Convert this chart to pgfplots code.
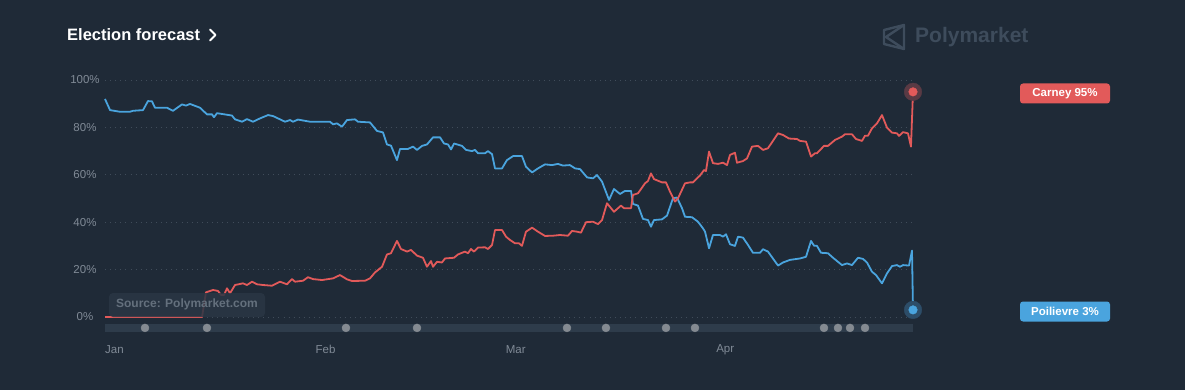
\documentclass[border=0pt]{standalone}
\usepackage{fontspec}
\setmainfont{Liberation Sans}
\usepackage{pgfplots}
\pgfplotsset{compat=1.18}
\definecolor{bg}{RGB}{31,42,55}
\definecolor{pblue}{RGB}{74,164,222}
\definecolor{pred}{RGB}{226,90,90}
\definecolor{gridc}{RGB}{64,76,90}
\definecolor{tickc}{RGB}{128,138,150}
\definecolor{barc}{RGB}{46,60,75}
\definecolor{dotc}{RGB}{132,138,145}
\definecolor{logoc}{RGB}{62,76,92}
\definecolor{srcbox}{RGB}{42,54,68}
\definecolor{srctext}{RGB}{100,112,125}
\definecolor{haloR}{RGB}{89,58,68}
\definecolor{haloB}{RGB}{45,77,104}
\begin{document}
\begin{tikzpicture}[x=1pt,y=1pt]
\useasboundingbox (0,0) rectangle (1185,-390);
\fill[bg] (0,0) rectangle (1185,-390);
% title
\node[anchor=west, inner sep=0pt, text=white, font=\bfseries\fontsize{16.5pt}{18pt}\selectfont] at (67,-35) {Election forecast};
\draw[white, line width=2pt, line cap=round, line join=round] (210,-29.5) -- (215.5,-35) -- (210,-40.5);
% logo
\draw[logoc, line width=2.4pt, line join=round] (884,-30) -- (904,-25) -- (904,-49) -- (884,-44) -- cycle;
\draw[logoc, line width=2.4pt, line join=round] (904,-25) -- (886,-37) -- (904,-49);
\node[anchor=west, inner sep=0pt, text=logoc, font=\bfseries\fontsize{21pt}{23pt}\selectfont] at (915,-37) {Polymarket};
\begin{axis}[
  at={(105pt,-317pt)}, anchor=south west,
  scale only axis, width=808pt, height=237pt,
  xmin=0, xmax=119, ymin=0, ymax=100,
  axis lines*=left, axis line style={draw=none},
  major tick length=0pt,
  clip=false,
  ytick={0,20,40,60,80,100},
  yticklabels={0\%,20\%,40\%,60\%,80\%,100\%},
  xtick={0,31,59,90},
  xticklabels={Jan,Feb,Mar,Apr},
  ymajorgrids,
  major grid style={gridc, line width=0.9pt, dash pattern=on 0.9pt off 4.2pt},
  yticklabel style={anchor=center, xshift=-20pt, text=tickc, font=\fontsize{11.5pt}{13pt}\selectfont},
  xticklabel style={anchor=west, inner sep=0pt, yshift=-32.5pt, text=tickc, font=\fontsize{11.5pt}{13pt}\selectfont},
  /pgf/number format/assume math mode=true,
]
% timeline bar
\fill[barc] (axis cs:0,-2.9) rectangle (axis cs:119,-6.3);
\addplot[only marks, mark=*, mark size=4pt, color=dotc] coordinates {
(5.89,-4.6) (15.02,-4.6) (35.49,-4.6) (45.95,-4.6) (68.04,-4.6) (73.78,-4.6) (82.62,-4.6) (86.89,-4.6) (105.89,-4.6) (107.95,-4.6) (109.72,-4.6) (111.93,-4.6)};
% Poilievre
\addplot[pblue, line width=1.8pt, line join=round, mark=none] coordinates {
(0,92) (0.74,87.3) (2.21,86.6) (3.68,86.6) (4.12,87) (5.6,87.3) (6.33,91.1) (6.92,91) (7.36,88.3) (9.13,88.3) (10.01,87) (11.34,89.7) (11.93,89.2) (12.52,89.9) (13.99,88.3) (15.02,85.5) (15.76,85.5) (16.05,84.3) (16.5,86) (18.7,85) (19.15,83.4) (20.18,82.4) (20.91,83.5) (21.8,82.4) (22.83,83.8) (24.01,85.2) (24.74,84.8) (26.51,82.4) (27.25,83.1) (27.69,82.4) (28.42,83.3) (30.19,82.4) (33.14,82.4) (33.58,81.3) (34.17,81.7) (34.9,80.3) (35.64,83.1) (36.82,83.4) (37.26,82.4) (39.03,82.1) (40.06,78.5) (40.94,77.9) (41.53,72.8) (42.12,72.3) (43.0,66.2) (43.45,70.9) (44.62,70.9) (45.36,71.9) (45.95,70.5) (46.69,72.2) (47.42,72.8) (48.31,75.8) (49.34,75.8) (49.93,73.2) (50.52,72.8) (50.96,70.7) (51.4,73.2) (52.58,72.2) (53.17,70.5) (54.05,70) (54.49,70.5) (54.93,69.1) (55.96,69.1) (56.41,70) (57.0,68.7) (57.44,62.7) (58.47,62.7) (59.2,66.2) (60.09,67.9) (61.41,67.9) (62.0,63.4) (62.89,61) (63.77,62.7) (64.8,64.4) (65.83,64.1) (66.72,64.6) (67.45,63.9) (68.48,64.1) (69.22,62.7) (69.96,62.4) (71.0,58.9) (71.87,58.5) (72.46,59.9) (73.2,57.1) (74.23,49.4) (74.96,54) (75.85,51.9) (76.58,53.2) (77.47,53.2) (77.76,47.7) (78.5,47) (79.23,41.4) (79.97,40.9) (80.41,38.1) (80.85,40.9) (82.03,41.2) (82.77,42.8) (83.65,50.1) (84.24,50.4) (84.98,45.9) (85.42,42.3) (86.45,42.1) (87.33,40.2) (88.07,37.4) (88.37,36) (88.96,29) (89.54,34.6) (90.57,34.6) (91.02,33.9) (91.46,34.9) (92.05,30.7) (92.78,30) (93.23,33.9) (93.96,33.5) (94.7,30.4) (95.43,27.1) (96.47,27.1) (96.91,28.6) (97.64,27.6) (99.12,21.7) (99.85,23) (100.88,24.1) (102.36,24.7) (103.24,25.4) (103.98,32.1) (104.42,30.1) (104.86,30) (105.45,27.1) (106.48,26.9) (107.22,25) (108.54,21.9) (109.28,22.6) (110.01,21.9) (110.9,25) (111.64,24.5) (112.22,23) (112.96,19.1) (113.55,17.7) (114.43,14.2) (115.17,18.4) (115.91,21.5) (116.64,21.9) (117.08,21.2) (117.53,21.9) (118.41,21.7) (118.85,28) (119,3)};
% Carney
\addplot[pred, line width=1.8pt, line join=round, mark=none] coordinates {
(0,0) (14.29,0) (14.87,10.4) (15.91,11.4) (16.64,11) (17.08,9.3) (17.53,9.3) (17.97,12.1) (18.41,10) (19.15,13.5) (20.32,14.2) (20.91,13.5) (21.65,14.9) (22.39,13.8) (23.27,13.5) (24.59,13.2) (25.77,14.9) (26.8,13.8) (27.54,16) (27.98,14.9) (29.16,15.3) (29.9,16.8) (30.63,16) (31.96,15.6) (33.58,16.3) (34.61,17.7) (35.64,15.9) (36.38,15.2) (38.29,15.3) (39.03,16.3) (39.76,18.8) (40.8,21.2) (41.53,26.4) (42.12,26.9) (43.0,32.1) (43.59,28.7) (44.48,27.6) (45.07,28.3) (45.95,25.9) (46.83,25) (47.42,21.2) (48.01,23.6) (48.31,21.2) (48.9,23.3) (49.63,23) (50.07,24.7) (51.4,25) (51.99,26.4) (53.02,27.6) (53.46,26.9) (53.9,28.7) (54.34,27.6) (54.93,29.3) (55.96,29.4) (56.41,28.7) (57.0,30.4) (57.44,36.7) (58.47,36.7) (59.06,33.9) (59.65,32.5) (60.38,31.1) (60.97,31.1) (61.41,30) (62.0,36) (62.89,37.7) (63.77,36) (64.8,34.2) (65.98,34.3) (67.01,34.6) (68.19,34.3) (68.78,36.3) (69.51,36) (70.1,35.6) (70.84,40) (71.87,40.2) (72.61,39.2) (73.2,40.9) (73.93,48) (74.96,44.4) (75.99,47) (76.44,45.9) (77.47,45.9) (77.76,51.5) (78.5,52.2) (79.53,56.4) (79.97,57.4) (80.41,60.6) (80.85,58.2) (81.44,57.5) (82.03,56.8) (82.62,56.8) (83.21,52.9) (83.95,48.7) (84.39,50.1) (85.42,56.4) (86.16,56.8) (86.6,56.8) (87.19,58.5) (87.63,59.7) (88.22,62) (88.51,61.6) (88.96,69.8) (89.54,64.9) (90.28,64.6) (91.02,65.1) (91.61,64.1) (92.05,68.4) (92.78,69.3) (93.08,65.1) (93.96,65.8) (94.55,66.9) (95.29,71.9) (96.17,72.2) (96.91,70.5) (97.64,71.2) (99.12,77.5) (99.85,76.8) (100.74,75.3) (101.91,75.1) (102.36,74.3) (103.24,74) (103.98,67.7) (104.57,69.1) (104.86,69.1) (105.89,72.2) (106.48,72.2) (107.51,74.7) (108.54,76.1) (108.98,77.1) (110.01,77.1) (110.6,75.1) (111.49,74.3) (111.93,76.5) (112.37,76.5) (112.96,79.6) (113.7,81.7) (114.43,85.2) (115.17,79.9) (115.91,77.8) (116.64,77.5) (116.94,76.4) (117.53,78) (118.26,77.5) (118.7,71.9) (119,95)};
% end markers
\addplot[only marks, mark=*, mark size=8.8pt, color=haloR] coordinates {(119,95)};
\addplot[only marks, mark=*, mark size=4.3pt, color=pred] coordinates {(119,95)};
\addplot[only marks, mark=*, mark size=8.8pt, color=haloB] coordinates {(119,3)};
\addplot[only marks, mark=*, mark size=4.3pt, color=pblue] coordinates {(119,3)};
\end{axis}
% source box
\fill[srcbox, fill opacity=0.85, rounded corners=4pt] (109,-293) rectangle (265,-317);
\node[text=srctext, inner sep=0pt, font=\bfseries\fontsize{12pt}{14pt}\selectfont] at (187,-304.5) {Source: Polymarket.com};
% badges
\node[fill=pred, rounded corners=3pt, text=white, inner sep=0pt, minimum width=90pt, minimum height=20pt, font=\bfseries\fontsize{11.5pt}{13pt}\selectfont] at (1065,-93.5) {Carney 95\%};
\node[fill=pblue, rounded corners=3pt, text=white, inner sep=0pt, minimum width=90pt, minimum height=20pt, font=\bfseries\fontsize{11.5pt}{13pt}\selectfont] at (1065,-311.5) {Poilievre 3\%};
\end{tikzpicture}
\end{document}
